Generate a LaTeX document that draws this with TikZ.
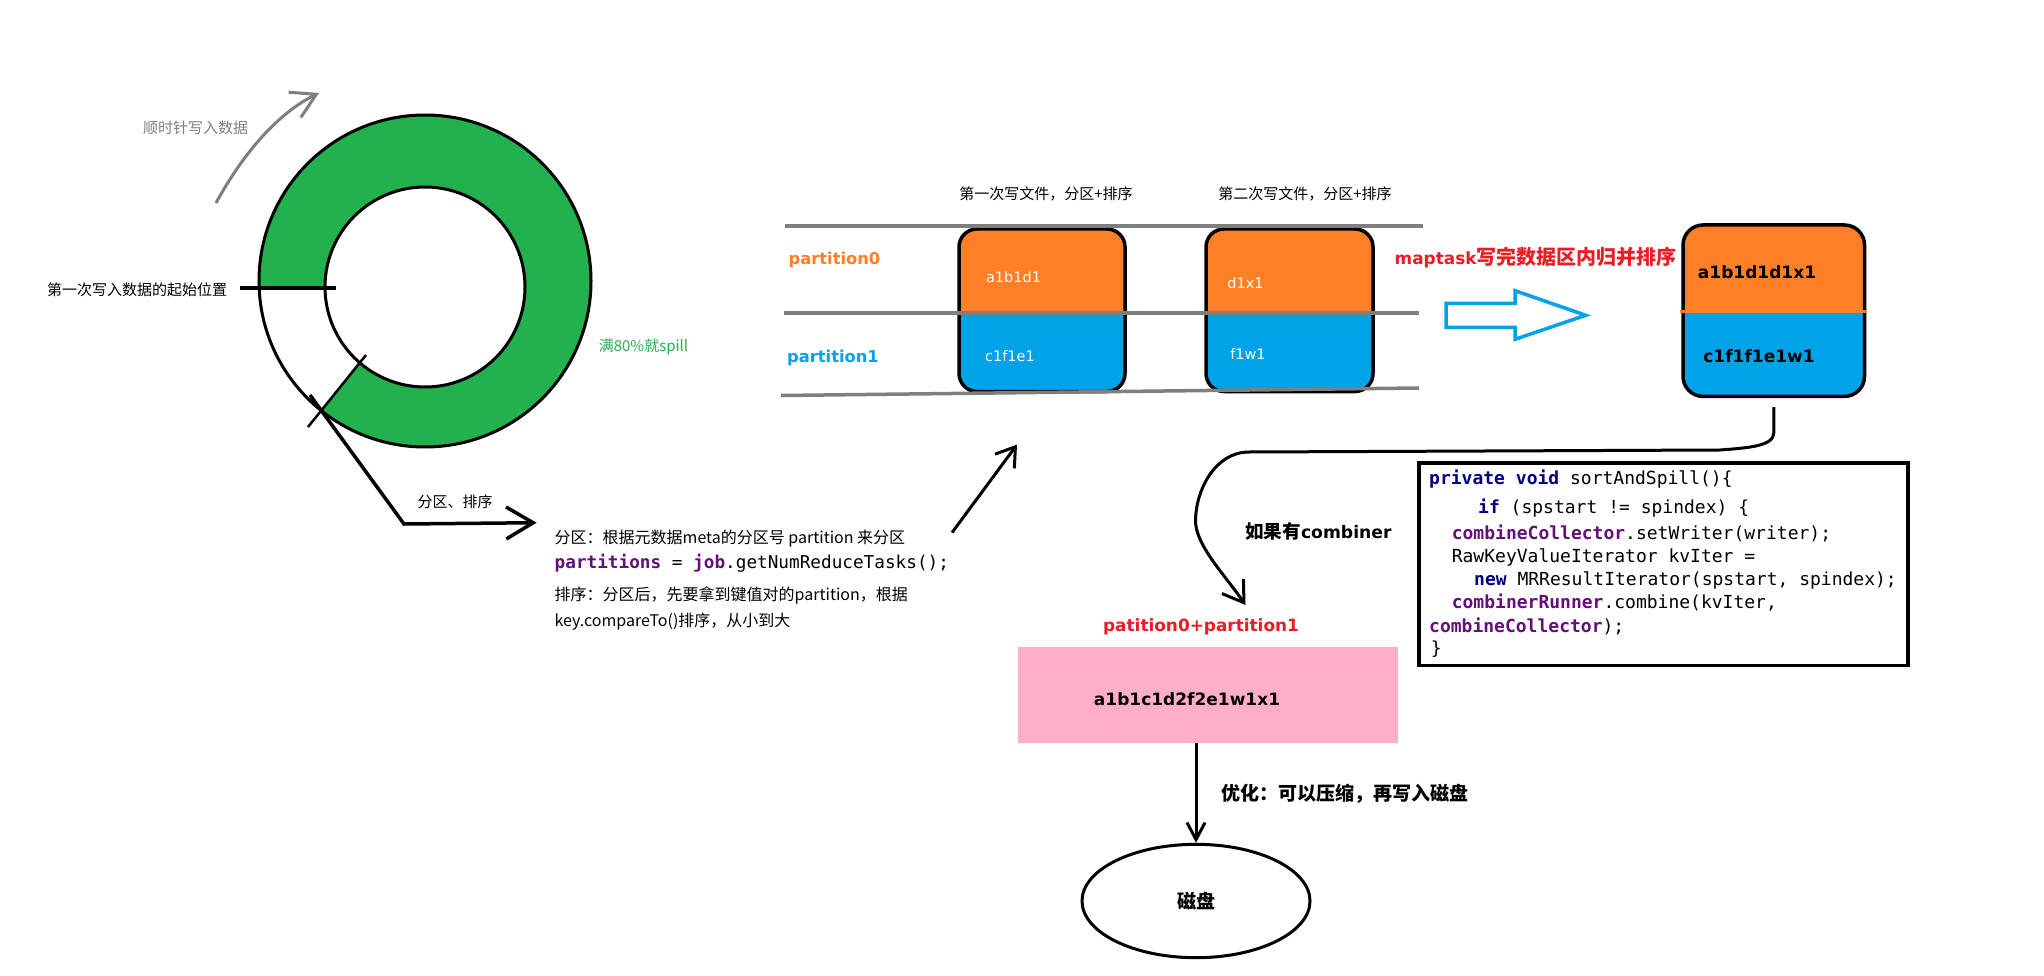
\documentclass[tikz,border=0pt]{standalone}
\usepackage{fontspec}
\usetikzlibrary{arrows.meta,shapes.geometric}
\newfontfamily\cjk{Noto Sans CJK SC}
\newfontfamily\vb{DejaVu Sans}
\newfontfamily\mono{DejaVu Sans Mono}
\newcommand\setfs[1]{\fontsize{#1pt}{#1pt}\selectfont}
\definecolor{ringgreen}{HTML}{22B14C}
\definecolor{porange}{HTML}{FF7F27}
\definecolor{pblue}{HTML}{00A2E8}
\definecolor{pred}{HTML}{ED1C24}
\definecolor{ppink}{HTML}{FFAEC9}
\definecolor{pgray}{HTML}{7F7F7F}
\definecolor{kwnavy}{HTML}{000080}
\definecolor{fieldpurple}{HTML}{660E7A}
\newcommand\kw[1]{\textbf{\color{kwnavy}#1}}
\newcommand\fld[1]{\textbf{\color{fieldpurple}#1}}
\begin{document}
\begin{tikzpicture}[x=1pt,y=-1pt,
  smalltxt/.style={inner sep=0pt, font={\cjk\setfs{15}}},
  expltxt/.style={inner sep=0pt, anchor=west, font={\cjk\setfs{16}}},
  codetxt/.style={inner sep=0pt, anchor=base west, font={\mono\setfs{18}}},
  boxtxt/.style={inner sep=0pt, text=white, font={\vb\setfs{14.5}}},
  boldtxt/.style={inner sep=0pt, font={\vb\bfseries\setfs{17}}},
  pbox/.style={draw=black, line width=3.5pt, rounded corners=18pt, inner sep=0pt},
  conn/.style={line width=3pt, draw=black},
  grayline/.style={draw=pgray, line width=3.5pt}
]
\useasboundingbox (0,0) rectangle (2044,976);
\fill[white] (0,0) rectangle (2044,976);

% ---------------- ring buffer ----------------
\begin{scope}
  \clip (425,289) -- (100,289) -- (100,80) -- (620,80) -- (620,500) -- (228.6,515.8) -- cycle;
  \fill[ringgreen, even odd rule] (425,281) circle[radius=166] (425,287) circle[radius=100];
\end{scope}
\draw[line width=3pt] (425,281) circle[radius=166];
\draw[line width=3pt] (425,287) circle[radius=100];
\draw[line width=4pt] (240,288) -- (336,288);
\draw[line width=2.5pt] (366,355) -- (308,427);

\node[smalltxt] (startlbl) at (137,290) {第一次写入数据的起始位置};
\node[smalltxt, text=pgray] (cwlbl) at (195.5,128) {顺时针写入数据};
\node[smalltxt, text=ringgreen] (spilllbl) at (643.5,347) {满80\%就spill};

\coordinate (cwS) at (216,203);
\coordinate (cwE) at (319,93);
\draw[pgray, line width=3pt, -{Straight Barb[length=24pt,width=28pt]}]
  (cwS) .. controls (245,150) and (280,112) .. (cwE);

\coordinate (cutA) at (310,395);
\coordinate (cutK) at (404,524);
\coordinate (cutB) at (536.6,522.7);
\draw[line width=3.5pt, -{Straight Barb[length=27pt,width=32pt]}] (cutA) -- (cutK) -- (cutB);
\node[smalltxt] (sortlbl) at (455,502) {分区、排序};

% ---------------- explanation ----------------
\node[expltxt] (e1) at (554.5,538.3) {分区：根据元数据meta的分区号 partition 来分区};
\node[inner sep=0pt, anchor=west, font={\mono\setfs{17.7}}] (e2) at (554.5,563.3)
  {\fld{partitions} = \fld{job}.getNumReduceTasks();};
\node[expltxt] (e3) at (554.5,595) {排序：分区后，先要拿到键值对的partition，根据};
\node[expltxt] (e4) at (554.5,621.7) {key.compareTo()排序，从小到大};

\coordinate (upA) at (952,532.6);
\coordinate (upB) at (1017,444.6);
\draw[conn, -{Straight Barb[length=18pt,width=24pt]}] (upA) -- (upB);

% ---------------- partition table ----------------
\node[smalltxt] (h1) at (1046,194) {第一次写文件，分区+排序};
\node[smalltxt] (h2) at (1305,194) {第二次写文件，分区+排序};

\begin{scope}
  \clip[rounded corners=18pt] (959,229) rectangle (1125,391.5);
  \fill[porange] (950,220) rectangle (1135,313);
  \fill[pblue] (950,313) rectangle (1135,400);
\end{scope}
\begin{scope}
  \clip[rounded corners=18pt] (1206,229) rectangle (1373,391.5);
  \fill[porange] (1200,220) rectangle (1380,313);
  \fill[pblue] (1200,313) rectangle (1380,400);
\end{scope}
\node[pbox, minimum width=166pt, minimum height=162.5pt] (b1) at (1042,310.25) {};
\node[pbox, minimum width=167pt, minimum height=162.5pt] (b2) at (1289.5,310.25) {};

\draw[grayline] (785,226) -- (1423,226);
\draw[grayline] (784,313) -- (1419,313);
\draw[grayline] (781,395.5) -- (1419,388);

\node[inner sep=0pt, text=porange, font={\vb\bfseries\setfs{16.3}}] (p0) at (834.5,260) {partition0};
\node[inner sep=0pt, text=pblue, font={\vb\bfseries\setfs{16.3}}] (p1) at (833,358) {partition1};

\node[boxtxt] (t11) at (1013.5,277) {a1b1d1};
\node[boxtxt] (t12) at (1010,356) {c1f1e1};
\node[boxtxt] (t21) at (1245.5,283.5) {d1x1};
\node[boxtxt] (t22) at (1248,353.5) {f1w1};

% ---------------- merge ----------------
\node[inner sep=0pt, anchor=west, text=pred] (mlbl) at (1394.5,258)
  {{\vb\bfseries\setfs{16.9}maptask}{\cjk\bfseries\setfs{20}写完数据区内归并排序}};
\draw[pblue, line width=3.5pt, line join=miter]
  (1446,303.3) -- (1515,303.3) -- (1515,290.7) -- (1585.7,315.3) -- (1515,339.3) -- (1515,327.3) -- (1446,327.3) -- cycle;

\begin{scope}
  \clip[rounded corners=20pt] (1683,225) rectangle (1864.5,396.4);
  \fill[porange] (1675,218) rectangle (1872,311.6);
  \fill[pblue] (1675,311.6) rectangle (1872,404);
\end{scope}
\node[pbox, rounded corners=20pt, minimum width=181.5pt, minimum height=171.4pt] (res) at (1773.75,310.7) {};
\draw[porange, line width=3pt] (1680,311.6) -- (1867,311.6);
\node[boldtxt] (r1) at (1757,272) {a1b1d1d1x1};
\node[boldtxt] (r2) at (1759,356) {c1f1f1e1w1};

% ---------------- combiner ----------------
\coordinate (cbEnd) at (1245.5,605);
\draw[conn, -{Straight Barb[length=20pt,width=26pt]}]
  ([yshift=-9pt]res.south) -- ([yshift=-35pt]res.south)
  .. controls (1773.75,446) and (1748,448) .. (1719.5,450)
  -- (1249,452)
  .. controls (1215,452) and (1196,490) .. (1195.5,520)
  .. controls (1195,545) and (1225,575) .. (cbEnd);
\node[inner sep=0pt, anchor=west] (cblbl) at (1245,531.7)
  {{\cjk\bfseries\setfs{18.6}如果有}{\vb\bfseries\setfs{17.2}combiner}};

\node[draw=black, line width=3.5pt, minimum width=489pt, minimum height=202.6pt, inner sep=0pt]
  (code) at (1663.5,564.3) {};
\node[codetxt] (c1) at (1429,484.5) {\kw{private} \kw{void} sortAndSpill()\{};
\node[codetxt] (c2) at (1478,513) {\kw{if} (spstart != spindex) \{};
\node[codetxt] (c3) at (1451.6,539) {\fld{combineCollector}.setWriter(writer);};
\node[codetxt] (c4) at (1451.6,562) {RawKeyValueIterator kvIter =};
\node[codetxt] (c5) at (1474,585.4) {\kw{new} MRResultIterator(spstart, spindex);};
\node[codetxt] (c6) at (1451.6,608.6) {\fld{combinerRunner}.combine(kvIter,};
\node[codetxt] (c7) at (1429,632) {\fld{combineCollector});};
\node[codetxt] (c8) at (1430.6,654) {\}};

% ---------------- result & disk ----------------
\node[inner sep=0pt, text=pred, font={\vb\bfseries\setfs{16.9}}] (pplbl) at (1201,627) {patition0+partition1};
\node[fill=ppink, minimum width=380pt, minimum height=96pt, inner sep=0pt] (pink) at (1208,695) {};
\node[boldtxt] (pinktxt) at (1187,699) {a1b1c1d2f2e1w1x1};

\node[draw=black, line width=3pt, ellipse, minimum width=228pt, minimum height=113.4pt, inner sep=0pt,
  font={\cjk\bfseries\setfs{19}}] (disk) at (1196,901) {磁盘};
\draw[conn, -{Straight Barb[length=17pt,width=18pt]}] (pink.south -| disk.north) -- (disk.north);
\node[inner sep=0pt, anchor=west, font={\cjk\bfseries\setfs{19}}] (optlbl) at (1221.7,793.5)
  {优化：可以压缩，再写入磁盘};
\end{tikzpicture}
\end{document}
